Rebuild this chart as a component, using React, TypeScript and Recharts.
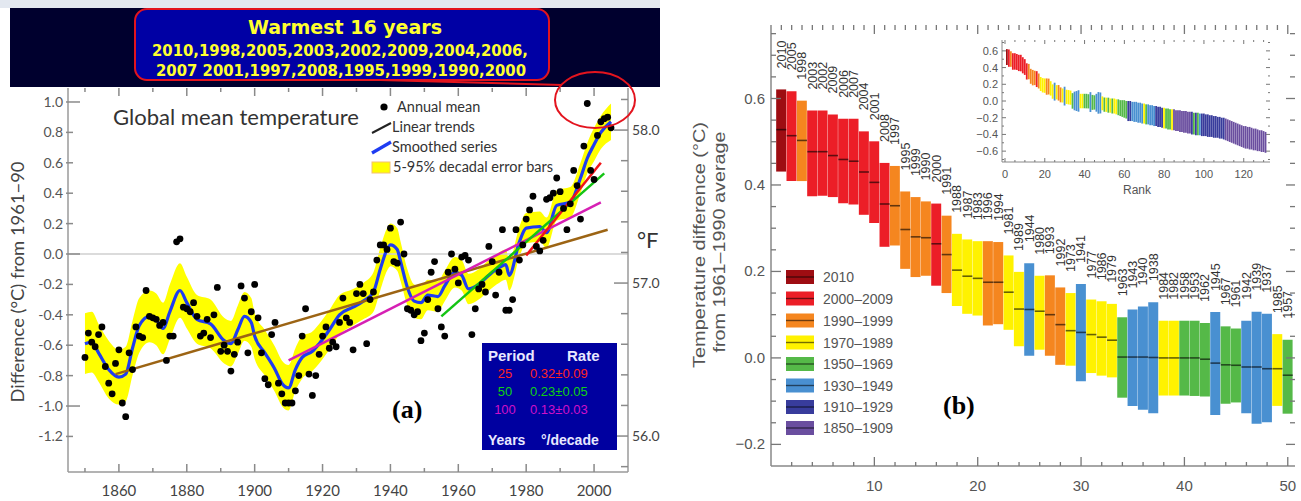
import React from 'react';
import { ComposedChart, Scatter, Line, Area, Bar, Cell, XAxis, YAxis, ReferenceLine, LabelList } from 'recharts';

// ---------- panel (a): global mean temperature ----------
const annualStart = 1850;
const annualMean = [
  -0.68, -0.52, -0.58, -0.61, -0.53, -0.48, -0.74, -0.85, -0.92, -0.72,
  -0.63, -0.98, -1.07, -0.65, -0.76, -0.48, -0.54, -0.55, -0.24, -0.41,
  -0.42, -0.43, -0.47, -0.45, -0.70, -0.54, -0.54, 0.08, 0.10, -0.35,
  -0.36, -0.38, -0.32, -0.41, -0.54, -0.52, -0.43, -0.55, -0.40, -0.22,
  -0.64, -0.60, -0.64, -0.77, -0.66, -0.58, -0.21, -0.29, -0.65, -0.38,
  -0.20, -0.42, -0.65, -0.82, -0.86, -0.53, -0.45, -0.85, -0.92, -0.98,
  -0.98, -0.98, -0.90, -0.80, -0.54, -0.36, -0.79, -0.93, -0.80, -0.66,
  -0.54, -0.48, -0.62, -0.58, -0.61, -0.45, -0.29, -0.42, -0.45, -0.63,
  -0.26, -0.20, -0.26, -0.59, -0.30, -0.25, -0.04, 0.06, 0.06, 0.03,
  0.17, -0.05, -0.06, 0.21, 0.00, -0.36, -0.37, -0.40, -0.38, -0.57,
  -0.52, -0.30, -0.12, -0.05, -0.36, -0.48, -0.54, -0.12, 0.00, -0.10,
  -0.19, -0.02, -0.01, -0.04, -0.53, -0.36, -0.23, -0.20, -0.25, 0.05,
  -0.05, -0.27, -0.12, 0.16, -0.37, -0.37, -0.30, 0.16, -0.04, 0.06,
  0.23, 0.29, 0.38, 0.05, 0.02, 0.09, 0.36, 0.37, 0.40, 0.50,
  0.41, 0.30, 0.16, 0.33, 0.55, 0.45, 0.23, 0.71, 0.99, 0.55,
  0.49, 0.78, 0.87, 0.89, 0.90, 0.83,
];

const smoothYears = [
  1850, 1852, 1854, 1857, 1860, 1862, 1864, 1866, 1869, 1871,
  1873, 1875, 1878, 1880, 1883, 1887, 1891, 1893, 1895, 1897,
  1899, 1900, 1903, 1906, 1908, 1910, 1912, 1914, 1917, 1919,
  1922, 1925, 1929, 1932, 1935, 1937, 1939, 1940, 1942, 1943,
  1945, 1947, 1949, 1951, 1954, 1956, 1959, 1961, 1963, 1966,
  1969, 1972, 1974, 1975, 1978, 1980, 1984, 1986, 1989, 1993,
  1996, 1998, 2000, 2002, 2005,
];
const smoothValues = [
  -0.59, -0.58, -0.65, -0.76, -0.81, -0.79, -0.62, -0.47, -0.41, -0.43,
  -0.49, -0.38, -0.24, -0.32, -0.43, -0.46, -0.57, -0.59, -0.50, -0.41,
  -0.45, -0.54, -0.65, -0.76, -0.85, -0.88, -0.76, -0.68, -0.64, -0.59,
  -0.50, -0.40, -0.35, -0.31, -0.25, -0.10, 0.03, 0.06, 0.03, -0.05,
  -0.22, -0.31, -0.32, -0.27, -0.28, -0.21, -0.12, -0.14, -0.23, -0.20,
  -0.14, -0.09, -0.07, -0.14, 0.08, 0.17, 0.18, 0.14, 0.32, 0.34,
  0.50, 0.63, 0.72, 0.80, 0.87,
];
const errorHalfWidth = [
  0.20, 0.20, 0.19, 0.19, 0.18, 0.18, 0.18, 0.18, 0.17, 0.17,
  0.17, 0.18, 0.18, 0.17, 0.16, 0.16, 0.15, 0.15, 0.16, 0.16,
  0.16, 0.15, 0.15, 0.15, 0.15, 0.15, 0.14, 0.14, 0.13, 0.13,
  0.13, 0.13, 0.12, 0.12, 0.13, 0.14, 0.14, 0.14, 0.14, 0.13,
  0.12, 0.11, 0.11, 0.10, 0.10, 0.10, 0.10, 0.10, 0.10, 0.10,
  0.10, 0.10, 0.10, 0.10, 0.10, 0.10, 0.10, 0.10, 0.10, 0.10,
  0.10, 0.10, 0.11, 0.11, 0.12,
];

const trendYears = [[1859, 2004], [1910, 2002], [1955, 2003], [1980, 2002]];
const trendValues = [[-0.79, 0.16], [-0.70, 0.34], [-0.41, 0.53], [-0.01, 0.60]];
const trendColors = ['#9c6414', '#d620b4', '#14c414', '#f01418'];

const ratePeriods = ['25', '50', '100'];
const rateValues = ['0.32±0.09', '0.23±0.05', '0.13±0.03'];

const warmestTitle = 'Warmest 16 years';
const warmestLine1 = '2010,1998,2005,2003,2002,2009,2004,2006,';
const warmestLine2 = '2007 2001,1997,2008,1995,1999,1990,2000';

// ---------- panel (b): ranked years ----------
const rankYears = [
  '2010', '2005', '1998', '2003', '2002', '2009', '2006', '2007', '2004', '2001',
  '2008', '1997', '1995', '1999', '1990', '2000', '1991', '1988', '1987', '1983',
  '1996', '1994', '1981', '1989', '1944', '1980', '1993', '1992', '1973', '1941',
  '1977', '1986', '1979', '1963', '1943', '1940', '1938', '1984', '1982', '1958',
  '1953', '1962', '1945', '1967', '1961', '1942', '1939', '1937', '1985', '1957',
];
const rankHigh = [
  0.621, 0.617, 0.595, 0.572, 0.572, 0.563, 0.553, 0.553, 0.524, 0.501,
  0.451, 0.444, 0.385, 0.372, 0.362, 0.357, 0.329, 0.287, 0.274, 0.270,
  0.270, 0.268, 0.237, 0.199, 0.219, 0.190, 0.191, 0.163, 0.150, 0.171,
  0.135, 0.131, 0.125, 0.094, 0.112, 0.119, 0.129, 0.086, 0.086, 0.086,
  0.086, 0.081, 0.106, 0.073, 0.068, 0.086, 0.107, 0.102, 0.055, 0.042,
];
const rankLow = [
  0.431, 0.409, 0.409, 0.374, 0.375, 0.372, 0.358, 0.355, 0.331, 0.312,
  0.257, 0.260, 0.206, 0.187, 0.190, 0.167, 0.150, 0.120, 0.102, 0.098,
  0.075, 0.078, 0.065, 0.027, 0.005, 0.019, 0.005, -0.016, -0.018, -0.054,
  -0.035, -0.041, -0.045, -0.092, -0.111, -0.120, -0.128, -0.087, -0.087, -0.087,
  -0.088, -0.089, -0.132, -0.106, -0.103, -0.128, -0.152, -0.149, -0.111, -0.129,
];
const rankMean = [
  0.528, 0.514, 0.503, 0.477, 0.477, 0.468, 0.459, 0.455, 0.430, 0.406,
  0.356, 0.352, 0.297, 0.280, 0.278, 0.264, 0.239, 0.203, 0.189, 0.184,
  0.175, 0.175, 0.152, 0.113, 0.112, 0.108, 0.100, 0.077, 0.063, 0.059,
  0.054, 0.048, 0.041, 0.002, 0.002, 0.002, 0.001, 0.000, 0.000, 0.000,
  0.000, -0.003, -0.012, -0.016, -0.017, -0.021, -0.021, -0.025, -0.025, -0.040,
];

// inset: ranks 51..131
const insetHigh = [
  0.04, 0.04, 0.03, 0.03, 0.03, 0.02, 0.02, 0.01, 0.01, 0.01,
  0.00, 0.00, 0.00, -0.01, -0.01, -0.01, -0.02, -0.02, -0.03, -0.03,
  -0.04, -0.04, -0.05, -0.05, -0.06, -0.06, -0.07, -0.07, -0.08, -0.08,
  -0.09, -0.09, -0.10, -0.10, -0.10, -0.11, -0.11, -0.11, -0.12, -0.12,
  -0.12, -0.13, -0.13, -0.13, -0.14, -0.14, -0.14, -0.15, -0.15, -0.15,
  -0.16, -0.16, -0.17, -0.17, -0.18, -0.18, -0.19, -0.19, -0.20, -0.20,
  -0.21, -0.22, -0.23, -0.24, -0.25, -0.26, -0.27, -0.28, -0.29, -0.30,
  -0.30, -0.31, -0.31, -0.32, -0.33, -0.33, -0.34, -0.35, -0.35, -0.36, -0.37,
];
const insetLow = [
  -0.13, -0.14, -0.14, -0.15, -0.15, -0.16, -0.17, -0.18, -0.19, -0.20,
  -0.21, -0.24, -0.24, -0.24, -0.25, -0.25, -0.26, -0.26, -0.27, -0.27,
  -0.28, -0.28, -0.29, -0.29, -0.30, -0.30, -0.31, -0.31, -0.32, -0.33,
  -0.33, -0.34, -0.34, -0.35, -0.35, -0.36, -0.36, -0.37, -0.37, -0.38,
  -0.38, -0.39, -0.39, -0.40, -0.40, -0.41, -0.41, -0.41, -0.42, -0.42,
  -0.42, -0.43, -0.43, -0.43, -0.44, -0.44, -0.44, -0.45, -0.45, -0.46,
  -0.47, -0.48, -0.49, -0.50, -0.51, -0.52, -0.53, -0.54, -0.55, -0.56,
  -0.57, -0.57, -0.58, -0.58, -0.59, -0.59, -0.60, -0.60, -0.61, -0.61, -0.62,
];
const insetPeriod = [
  3, 4, 3, 4, 3, 3, 4, 4, 4, 4,
  4, 6, 6, 5, 5, 5, 5, 5, 5, 3,
  4, 5, 5, 5, 5, 6, 6, 6, 6, 3,
  4, 4, 4, 3, 7, 7, 7, 7, 7, 7,
  7, 7, 7, 6, 4, 6, 4, 5, 6, 6,
  6, 6, 6, 6, 6, 6, 6, 6, 6, 6,
  7, 7, 7, 7, 7, 7, 7, 7, 7, 7,
  7, 7, 7, 7, 7, 7, 7, 7, 7, 7, 7,
];

const periodLabels = ['2010', '2000–2009', '1990–1999', '1970–1989', '1950–1969', '1930–1949', '1910–1929', '1850–1909'];
const periodColors = ['#9e0d12', '#ec1e27', '#f5861f', '#fff200', '#55b948', '#4990d1', '#383c9c', '#6a4e9f'];

const SANS = 'Lato, "Noto Sans", sans-serif';
const HELV = '"Liberation Sans", Arial, sans-serif';
const SERIF = '"Liberation Serif", "Times New Roman", serif';

function periodOf(year: number) {
  if (year === 2010) return 0;
  if (year >= 2000) return 1;
  if (year >= 1990) return 2;
  if (year >= 1970) return 3;
  if (year >= 1950) return 4;
  if (year >= 1930) return 5;
  if (year >= 1910) return 6;
  return 7;
}

const near = (a: number, b: number) => Math.abs(a - b) < 1e-6;

// ---------- panel (a) axes ----------
const A = { left: 68, right: 628, top: 88, bottom: 472 };
const aXTicks = [1850, 1860, 1870, 1880, 1890, 1900, 1910, 1920, 1930, 1940, 1950, 1960, 1970, 1980, 1990, 2000];
const aYTicks = [-1.2, -1.0, -0.8, -0.6, -0.4, -0.2, 0, 0.2, 0.4, 0.6, 0.8, 1.0];
const fTicks = [55.8, 56.0, 56.2, 56.4, 56.6, 56.8, 57.0, 57.2, 57.4, 57.6, 57.8, 58.0, 58.2];

const aXTick = (p: any) => {
  const v = p.payload.value;
  const major = (v - 1860) % 20 === 0;
  const len = major ? 8 : 4;
  return (
    <g>
      <line x1={p.x} x2={p.x} y1={A.bottom} y2={A.bottom - len} stroke="#8a8a8a" strokeWidth={1.5} />
      <line x1={p.x} x2={p.x} y1={A.top} y2={A.top + len} stroke="#8a8a8a" strokeWidth={1.5} />
      {major && (
        <text x={p.x} y={496} textAnchor="middle" fontSize={15} fill="#444" fontFamily={SANS}>{v}</text>
      )}
    </g>
  );
};

const aYTick = (p: any) => {
  const v = p.payload.value;
  const major = near(v, 0) || near(Math.abs(v), 1);
  return (
    <g>
      <line x1={A.left - 2} x2={A.left + (major ? 12 : 5)} y1={p.y} y2={p.y} stroke="#8a8a8a" strokeWidth={1.5} />
      <text x={63} y={p.y + 5} textAnchor="end" fontSize={14} fill="#555" fontFamily={SANS}>{v.toFixed(1)}</text>
    </g>
  );
};

const fTick = (p: any) => {
  const v = p.payload.value;
  const whole = near(v, Math.round(v));
  return (
    <g>
      <line x1={A.right} x2={A.right - (whole ? 14 : 7)} y1={p.y} y2={p.y} stroke="#8a8a8a" strokeWidth={1.5} />
      {whole && (
        <text x={632} y={p.y + 5} fontSize={14} fill="#444" fontFamily={SANS}>{v.toFixed(1)}</text>
      )}
    </g>
  );
};

const blackDot = (p: any) => <circle cx={p.cx} cy={p.cy} r={3.4} fill="#000" />;

function PanelA() {
  const smoothRows = smoothYears.map((y, i) => ({
    year: y,
    v: smoothValues[i],
    band: [smoothValues[i] - errorHalfWidth[i], smoothValues[i] + errorHalfWidth[i]],
  }));
  const annualRows = annualMean.map((v, i) => ({ year: annualStart + i, v }));
  return (
    <div style={{ position: 'absolute', left: 0, top: 0 }}>
      <ComposedChart width={660} height={501} margin={{ top: 88, right: 0, bottom: 0, left: 0 }}>
        <XAxis dataKey="year" type="number" domain={[1845, 2010]} ticks={aXTicks} interval={0} height={29}
          stroke="#9a9a9a" strokeWidth={1.5} tickLine={false} tick={aXTick} allowDataOverflow />
        <XAxis xAxisId="top" orientation="top" dataKey="year" type="number" domain={[1845, 2010]} height={0}
          stroke="#9a9a9a" tick={false} tickLine={false} allowDataOverflow />
        <YAxis yAxisId="c" type="number" domain={[-1.434, 1.092]} ticks={aYTicks} interval={0} width={68}
          stroke="#9a9a9a" strokeWidth={1.5} tickLine={false} tick={aYTick} allowDataOverflow />
        <YAxis yAxisId="f" orientation="right" type="number" domain={[55.765, 58.275]} ticks={fTicks} interval={0} width={32}
          stroke="#9a9a9a" strokeWidth={1.5} tickLine={false} tick={fTick} allowDataOverflow />
        <ReferenceLine yAxisId="c" y={0} stroke="#cfcfcf" strokeWidth={1.5} />
        <Area yAxisId="c" data={smoothRows} dataKey="band" type="monotone" fill="#ffff00" fillOpacity={1}
          stroke="none" isAnimationActive={false} />
        <Scatter yAxisId="c" data={annualRows} dataKey="v" shape={blackDot} isAnimationActive={false} />
        <Line yAxisId="c" data={smoothRows} dataKey="v" type="monotone" stroke="#1e3cf2" strokeWidth={3.2}
          dot={false} isAnimationActive={false} />
        {trendYears.map((ys, k) => (
          <Line key={k} yAxisId="c" data={ys.map((y, j) => ({ year: y, v: trendValues[k][j] }))} dataKey="v"
            stroke={trendColors[k]} strokeWidth={2.5} dot={false} isAnimationActive={false} />
        ))}
      </ComposedChart>
    </div>
  );
}

// ---------- panel (b) ----------
const B = { left: 81, right: 605, top: 25, bottom: 466 };
const bXTicks = Array.from({ length: 50 }, (_, i) => i + 1);
const bYTicks = [-0.2, -0.15, -0.1, -0.05, 0, 0.05, 0.1, 0.15, 0.2, 0.25, 0.3, 0.35, 0.4, 0.45, 0.5, 0.55, 0.6, 0.65, 0.7, 0.75];

const bXTick = (p: any) => {
  const v = p.payload.value;
  const major = v % 10 === 0;
  return (
    <g>
      {(major || v % 2 === 0) && (
        <line x1={p.x} x2={p.x} y1={B.bottom} y2={B.bottom - (major ? 9 : 4)} stroke="#777" strokeWidth={1.3} />
      )}
      <line x1={p.x} x2={p.x} y1={B.top} y2={B.top + (major ? 9 : 5)} stroke="#777" strokeWidth={1.3} />
      {major && (
        <text x={p.x} y={491} textAnchor="middle" fontSize={15} fill="#555" fontFamily={HELV}>{v}</text>
      )}
    </g>
  );
};

const bYTick = (p: any) => {
  const v = p.payload.value;
  const major = near(Math.round(v * 5), v * 5);
  return (
    <g>
      <line x1={B.left} x2={B.left + (major ? 10 : 5)} y1={p.y} y2={p.y} stroke="#777" strokeWidth={1.3} />
      <line x1={B.right} x2={B.right - (major ? 9 : 5)} y1={p.y} y2={p.y} stroke="#777" strokeWidth={1.3} />
      {major && (
        <text x={75} y={p.y + 5} textAnchor="end" fontSize={15} fill="#555" fontFamily={HELV}>
          {v < 0 ? '−' + Math.abs(v).toFixed(1) : v.toFixed(1)}
        </text>
      )}
    </g>
  );
};

const yearLabel = (p: any) => {
  const top = Math.min(p.y, p.y + p.height);
  const cx = p.x + p.width / 2 + 4.5;
  const base = top - 21;
  return (
    <text x={cx} y={base} transform={`rotate(-90 ${cx} ${base})`} fontSize={12.5} fill="#333" fontFamily={HELV}>
      {p.value}
    </text>
  );
};

const meanMark = (p: any) => (
  <line x1={p.cx - 5} x2={p.cx + 5} y1={p.cy} y2={p.cy} stroke="#000" strokeOpacity={0.6} strokeWidth={1.6} />
);

function PanelB() {
  const rows = rankYears.map((y, i) => ({
    rank: i + 1,
    year: y,
    range: [rankLow[i], rankHigh[i]],
    mean: rankMean[i],
    period: periodOf(Number(y)),
  }));
  return (
    <div style={{ position: 'absolute', left: 690, top: 0 }}>
      <ComposedChart width={611} height={501} data={rows} margin={{ top: 25, right: 6, bottom: 0, left: 0 }} barGap={0}>
        <XAxis dataKey="rank" type="number" domain={[0, 50.7]} ticks={bXTicks} interval={0} height={35}
          stroke="#888" strokeWidth={1.5} tickLine={false} tick={bXTick} allowDataOverflow />
        <XAxis xAxisId="top" orientation="top" dataKey="rank" type="number" domain={[0, 50.7]} height={0}
          stroke="#888" strokeWidth={1.5} tick={false} tickLine={false} allowDataOverflow />
        <YAxis yAxisId="v" type="number" domain={[-0.25, 0.77]} ticks={bYTicks} interval={0} width={81}
          stroke="#888" strokeWidth={1.5} tickLine={false} tick={bYTick} allowDataOverflow />
        <YAxis yAxisId="r" orientation="right" type="number" domain={[-0.25, 0.77]} width={0}
          stroke="#888" strokeWidth={1.5} tick={false} tickLine={false} allowDataOverflow />
        <Bar yAxisId="v" dataKey="range" barSize={10} isAnimationActive={false}>
          {rows.map((r) => (
            <Cell key={r.rank} fill={periodColors[r.period]} />
          ))}
          <LabelList dataKey="year" content={yearLabel} />
        </Bar>
        <Scatter yAxisId="v" dataKey="mean" shape={meanMark} isAnimationActive={false} />
      </ComposedChart>
    </div>
  );
}

// ---------- inset ----------
const I = { left: 42, right: 310, top: 10, bottom: 132 };
const iXTicks = [0, 5, 10, 15, 20, 25, 30, 35, 40, 45, 50, 55, 60, 65, 70, 75, 80, 85, 90, 95, 100, 105, 110, 115, 120, 125, 130];
const iYTicks = [-0.7, -0.6, -0.5, -0.4, -0.3, -0.2, -0.1, 0, 0.1, 0.2, 0.3, 0.4, 0.5, 0.6, 0.7];

const iXTick = (p: any) => {
  const v = p.payload.value;
  const major = v % 20 === 0;
  return (
    <g>
      <line x1={p.x} x2={p.x} y1={I.bottom} y2={I.bottom - (major ? 4 : 2)} stroke="#777" />
      <line x1={p.x} x2={p.x} y1={I.top} y2={I.top + (major ? 4 : 2)} stroke="#777" />
      {major && (
        <text x={p.x} y={148} textAnchor="middle" fontSize={11} fill="#555" fontFamily={HELV}>{v}</text>
      )}
    </g>
  );
};

const iYTick = (p: any) => {
  const v = p.payload.value;
  const major = near(Math.round(v * 5), v * 5);
  return (
    <g>
      <line x1={I.left} x2={I.left + (major ? 4 : 2)} y1={p.y} y2={p.y} stroke="#777" />
      <line x1={I.right} x2={I.right - (major ? 4 : 2)} y1={p.y} y2={p.y} stroke="#777" />
      {major && (
        <text x={38} y={p.y + 4} textAnchor="end" fontSize={11} fill="#555" fontFamily={HELV}>
          {v < 0 ? '−' + Math.abs(v).toFixed(1) : v.toFixed(1)}
        </text>
      )}
    </g>
  );
};

function Inset() {
  const rows = [
    ...rankYears.map((y, i) => ({ rank: i + 1, range: [rankLow[i], rankHigh[i]], period: periodOf(Number(y)) })),
    ...insetHigh.map((h, i) => ({ rank: 51 + i, range: [insetLow[i], h], period: insetPeriod[i] })),
  ];
  return (
    <div style={{ position: 'absolute', left: 960, top: 30 }}>
      <ComposedChart width={320} height={170} data={rows} margin={{ top: 10, right: 10, bottom: 0, left: 0 }} barGap={0}>
        <XAxis dataKey="rank" type="number" domain={[-1.5, 133.2]} ticks={iXTicks} interval={0} height={38}
          stroke="#888" tickLine={false} tick={iXTick} allowDataOverflow />
        <XAxis xAxisId="top" orientation="top" dataKey="rank" type="number" domain={[-1.5, 133.2]} height={0}
          stroke="#888" tick={false} tickLine={false} allowDataOverflow />
        <YAxis yAxisId="v" type="number" domain={[-0.73, 0.73]} ticks={iYTicks} interval={0} width={42}
          stroke="#888" tickLine={false} tick={iYTick} allowDataOverflow />
        <YAxis yAxisId="r" orientation="right" type="number" domain={[-0.73, 0.73]} width={0}
          stroke="#888" tick={false} tickLine={false} allowDataOverflow />
        <Bar yAxisId="v" dataKey="range" barSize={3} isAnimationActive={false}>
          {rows.map((r) => (
            <Cell key={r.rank} fill={periodColors[r.period]} />
          ))}
        </Bar>
      </ComposedChart>
    </div>
  );
}

// ---------- decorations: header, legends, labels ----------
function Overlay() {
  const legendRows = [277, 298.5, 320.5, 342.5, 364, 385.5, 407, 428];
  const rateColors = ['#ff2424', '#10d010', '#d010c8'];
  return (
    <svg width={1301} height={501} style={{ position: 'absolute', left: 0, top: 0, pointerEvents: 'none' }}>
      {/* header of panel (a) */}
      <rect x={0} y={0} width={660} height={8} fill="#e3e8f0" />
      <rect x={10} y={8} width={650} height={79} fill="#00002e" />
      <rect x={135} y={9} width={414} height={71} rx={12} fill="#0000a4" stroke="#e3141e" strokeWidth={2} />
      <text x={345} y={34} textAnchor="middle" fontSize={20} fontWeight="bold" fill="#ffff2e" fontFamily='"DejaVu Sans", sans-serif'
        textLength={194} lengthAdjust="spacingAndGlyphs">{warmestTitle}</text>
      <text x={340} y={56} textAnchor="middle" fontSize={16} fontWeight="bold" fill="#ffff2e" fontFamily='"DejaVu Sans", sans-serif'
        textLength={376} lengthAdjust="spacingAndGlyphs">{warmestLine1}</text>
      <text x={341} y={76} textAnchor="middle" fontSize={16} fontWeight="bold" fill="#ffff2e" fontFamily='"DejaVu Sans", sans-serif'
        textLength={370} lengthAdjust="spacingAndGlyphs">{warmestLine2}</text>
      <line x1={380} y1={80} x2={562} y2={85} stroke="#e3141e" strokeWidth={2} />
      <ellipse cx={595} cy={100} rx={40} ry={28} fill="none" stroke="#e3141e" strokeWidth={2} />

      {/* panel (a) texts */}
      <text x={113} y={125} fontSize={21} fill="#333" fontFamily={SANS} textLength={246} lengthAdjust="spacingAndGlyphs">
        Global mean temperature
      </text>
      <circle cx={384} cy={107} r={3.6} fill="#000" />
      <text x={397} y={112} fontSize={14.5} fill="#333" fontFamily={SANS}>Annual mean</text>
      <line x1={372} y1={133} x2={391} y2={123} stroke="#222" strokeWidth={2} />
      <text x={392} y={132} fontSize={14.5} fill="#333" fontFamily={SANS}>Linear trends</text>
      <line x1={372} y1={153} x2={391} y2={142} stroke="#1e3cf2" strokeWidth={3.2} />
      <text x={392} y={152} fontSize={14.5} fill="#333" fontFamily={SANS}>Smoothed series</text>
      <rect x={372} y={162} width={18} height={11} fill="#ffff00" stroke="#f3c070" strokeWidth={1} />
      <text x={393} y={172} fontSize={14.5} fill="#333" fontFamily={SANS}>5-95% decadal error bars</text>

      <text x={24} y={282} transform="rotate(-90 24 282)" textAnchor="middle" fontSize={17} fill="#444" fontFamily={SANS}
        textLength={241} lengthAdjust="spacingAndGlyphs">Difference (°C) from 1961−90</text>
      <text x={637} y={248} fontSize={22} fill="#333" fontFamily={SANS}>°F</text>

      <rect x={482} y={343} width={135} height={107} fill="#0000a0" />
      <text x={488} y={361} fontSize={15} fontWeight="bold" fill="#e8e8ff" fontFamily={HELV}>Period</text>
      <text x={567} y={361} fontSize={15} fontWeight="bold" fill="#e8e8ff" fontFamily={HELV}>Rate</text>
      {ratePeriods.map((pr, i) => (
        <g key={pr}>
          <text x={505} y={378 + i * 18} textAnchor="middle" fontSize={13} fill={rateColors[i]} fontFamily={HELV}>{pr}</text>
          <text x={530} y={378 + i * 18} fontSize={13} fill={rateColors[i]} fontFamily={HELV}>{rateValues[i]}</text>
        </g>
      ))}
      <text x={488} y={445} fontSize={14} fontWeight="bold" fill="#e8e8ff" fontFamily={HELV}>Years</text>
      <text x={541} y={445} fontSize={14} fontWeight="bold" fill="#e8e8ff" fontFamily={HELV}>°/decade</text>
      <text x={392} y={418} fontSize={26} fontWeight="bold" fill="#000" fontFamily={SERIF}>(a)</text>

      {/* panel (b) texts */}
      <text x={705} y={245} transform="rotate(-90 705 245)" textAnchor="middle" fontSize={16} fill="#555" fontFamily={HELV}
        textLength={246} lengthAdjust="spacingAndGlyphs">Temperature difference (°C)</text>
      <text x={725} y={242} transform="rotate(-90 725 242)" textAnchor="middle" fontSize={16} fill="#555" fontFamily={HELV}
        textLength={221} lengthAdjust="spacingAndGlyphs">from 1961–1990 average</text>
      {periodLabels.map((lab, i) => (
        <g key={lab}>
          <rect x={786} y={legendRows[i] - 7} width={28} height={14} fill={periodColors[i]} />
          <line x1={786} x2={814} y1={legendRows[i]} y2={legendRows[i]} stroke="#000" strokeOpacity={0.55} strokeWidth={1.4} />
          <text x={823} y={legendRows[i] + 5} fontSize={14} fill="#555" fontFamily={HELV}>{lab}</text>
        </g>
      ))}
      <text x={943} y={414} fontSize={26} fontWeight="bold" fill="#000" fontFamily={SERIF}>(b)</text>
      <text x={1137} y={194} textAnchor="middle" fontSize={12} fill="#555" fontFamily={HELV}>Rank</text>
    </svg>
  );
}

export default function App() {
  return (
    <div style={{ position: 'fixed', left: 0, top: 0, width: 1301, height: 501, background: '#fff', overflow: 'hidden' }}>
      <PanelA />
      <PanelB />
      <Inset />
      <Overlay />
    </div>
  );
}
